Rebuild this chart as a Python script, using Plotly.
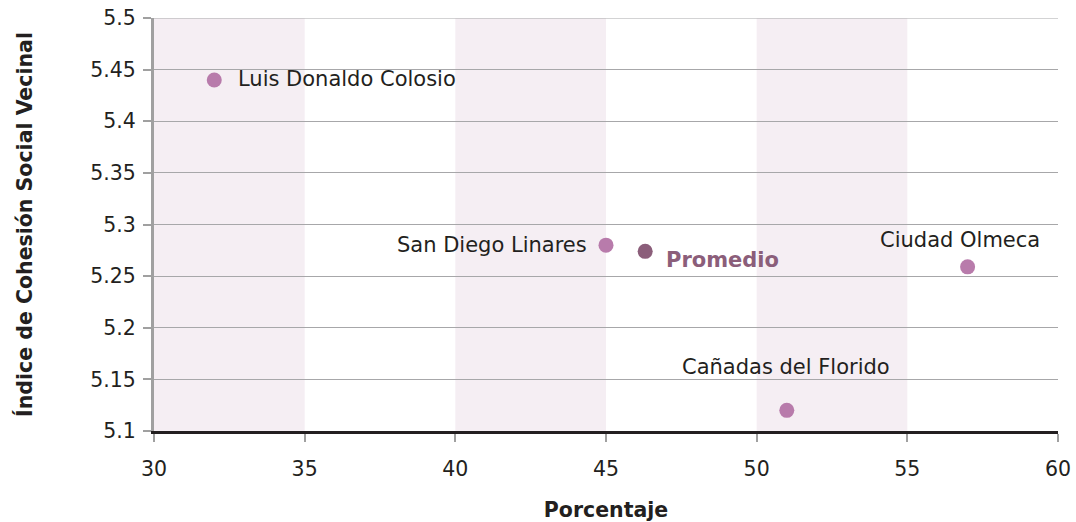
import plotly.graph_objects as go

names = ["Luis Donaldo Colosio", "San Diego Linares", "Ciudad Olmeca", "Cañadas del Florido"]
pct = [32.0, 45.0, 57.0, 51.0]
index = [5.44, 5.28, 5.259, 5.12]
avg_name = "Promedio"
avg_pct = 46.3
avg_index = 5.274
bands = [(30, 35), (40, 45), (50, 55)]
x_ticks = [30, 35, 40, 45, 50, 55, 60]
y_ticks = [5.1, 5.15, 5.2, 5.25, 5.3, 5.35, 5.4, 5.45, 5.5]

FONT = "DejaVu Sans"
GRID = "#a7a7a9"
fig = go.Figure()

for a, b in bands:
    fig.add_vrect(x0=a, x1=b, fillcolor="#f5eef3", line_width=0, layer="below")
# top gridline at the range maximum
fig.add_hline(y=y_ticks[-1], line_color=GRID, line_width=1.2, layer="below")

fig.add_trace(go.Scatter(x=pct, y=index, mode="markers",
                         marker=dict(size=15, color="#b87bab"), hoverinfo="skip", showlegend=False))
fig.add_trace(go.Scatter(x=[avg_pct], y=[avg_index], mode="markers",
                         marker=dict(size=15, color="#8b5e7a"), hoverinfo="skip", showlegend=False))

# label offsets (pixels)
offsets = [(22, 1, "left"), (-17, 0, "right"), (-8, 27, "center"), (-1, 43, "center")]
for n, x, y, (dx, dy, anc) in zip(names, pct, index, offsets):
    fig.add_annotation(x=x, y=y, text=n, showarrow=False, xanchor=anc, yanchor="middle",
                       xshift=dx, yshift=dy, font=dict(family=FONT, size=21, color="#231f20"))
fig.add_annotation(x=avg_pct, y=avg_index, text="<b>" + avg_name + "</b>", showarrow=False,
                   xanchor="left", yanchor="middle", xshift=19, yshift=-9,
                   font=dict(family=FONT, size=21, color="#8b5e7a"))

fig.update_layout(
    width=1076, height=522,
    margin=dict(l=154, r=18, t=18, b=91),
    plot_bgcolor="white", paper_bgcolor="white",
    font=dict(family=FONT, size=20.5, color="#231f20"),
    xaxis=dict(range=[30, 60], tickvals=x_ticks, showgrid=False, zeroline=False, automargin=False,
               showline=True, linecolor="#231f20", linewidth=3, ticklabeloverflow="allow",
               ticks="outside", ticklen=8, tickcolor="#a0a0a0", tickwidth=1.5, ticklabelstandoff=9,
               title=dict(text="<b>Porcentaje</b>", font=dict(family=FONT, size=20.5), standoff=24)),
    yaxis=dict(range=[5.1, 5.5], tickvals=y_ticks, ticktext=[f"{v:g}" for v in y_ticks],
               showgrid=True, gridcolor=GRID, gridwidth=1.2, zeroline=False, automargin=False,
               showline=True, linecolor="#a0a0a0", linewidth=3, ticklabeloverflow="allow",
               ticks="outside", ticklen=8, tickcolor="#a0a0a0", tickwidth=1.5, ticklabelstandoff=3,
               title=dict(text="<b>Índice de Cohesión Social Vecinal</b>", font=dict(family=FONT, size=20.5), standoff=53)),
)

fig.write_html("out.html", config={"displayModeBar": False},
               post_script="document.body.style.margin='0';document.body.style.overflow='hidden';")
